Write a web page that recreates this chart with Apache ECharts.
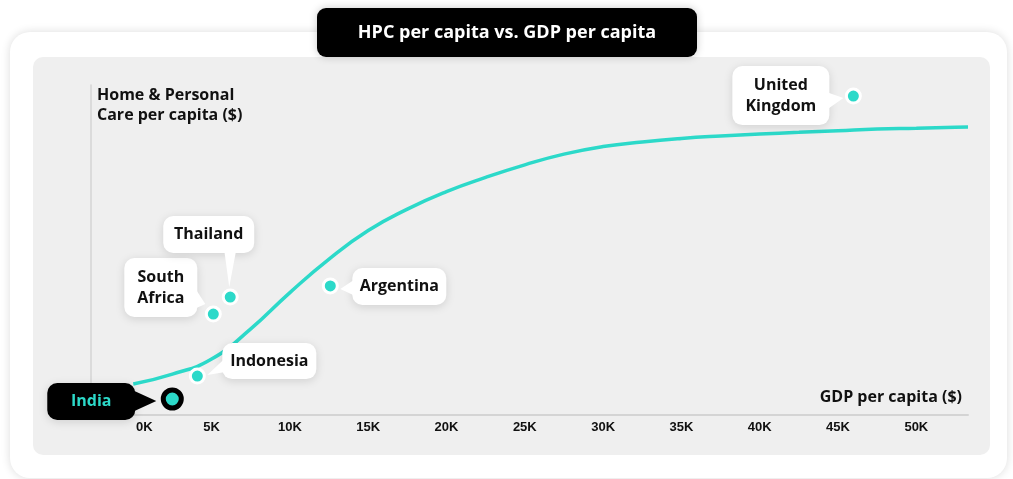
<!DOCTYPE html>
<html>
<head>
<meta charset="utf-8">
<script src="https://cdn.jsdelivr.net/npm/echarts@6/dist/echarts.min.js"></script>
<style>
html,body{margin:0;padding:0;background:#fff;}
#c{width:1013px;height:479px;}
</style>
</head>
<body>
<div id="c"></div>
<script>
// ---- data ----
var countries = ['India', 'Indonesia', 'South Africa', 'Thailand', 'Argentina', 'United Kingdom'];
var countryLabels = ['India', 'Indonesia', 'South\nAfrica', 'Thailand', 'Argentina', 'United\nKingdom'];
var gdpPerCapita = [2490, 4090, 5110, 6190, 12580, 45980];
var hpcPerCapita = [9.7, 23.6, 61.2, 71.5, 78.2, 193.3];

var curveGdp = [0, 2500, 5000, 7500, 10000, 12500, 15000, 17500, 20000, 22500, 25000, 27500, 30000, 32500, 35000, 37500, 40000, 42500, 45000, 47500, 50000, 52500, 53300];
var curveHpc = [18.8, 24.8, 33.9, 52.2, 74.2, 94.5, 111.8, 124.8, 135.4, 144.0, 151.6, 158.1, 162.7, 165.5, 167.6, 169.1, 170.3, 171.3, 172.3, 173.3, 173.8, 174.4, 174.5];

var xTickValues = [0, 5000, 10000, 15000, 20000, 25000, 30000, 35000, 40000, 45000, 50000];

var chartTitle = 'HPC per capita vs. GDP per capita';
var yName = 'Home & Personal\nCare per capita ($)';
var xName = 'GDP per capita ($)';

// ---- styles / layout (relative to each dot) ----
var TEAL = '#2cd9c9';
var FONT = '"Open Sans", Lato, sans-serif';
var calloutLayout = [
  {box: [-125, -16, 88, 37], ptr: [[-40, -9], [-16, 2], [-40, 13]], bg: '#000', color: TEAL, big: true},
  {box: [25, -33, 94, 36], ptr: [[28, -18], [28, -4], [10, -1]], bg: '#fff', color: '#111'},
  {box: [-89, -56, 73, 59], ptr: [[-19, -27], [-19, -5], [-8, -10]], bg: '#fff', color: '#111'},
  {box: [-67, -81, 91, 37], ptr: [[-6, -47], [6, -47], [-1, -10]], bg: '#fff', color: '#111'},
  {box: [22, -18, 94, 37], ptr: [[25, -7], [25, 10], [10, 3]], bg: '#fff', color: '#111'},
  {box: [-121, -30, 97, 59], ptr: [[-27, -4], [-27, 14], [-10, 2]], bg: '#fff', color: '#111'}
];

var pointData = countries.map(function (n, i) { return [gdpPerCapita[i], hpcPerCapita[i], i]; });
var curveData = curveGdp.map(function (g, i) { return [g, curveHpc[i]]; });

function renderCallout(params, api) {
  var i = params.dataIndex;
  var p = api.coord([api.value(0), api.value(1)]);
  var L = calloutLayout[i];
  var bx = p[0] + L.box[0], by = p[1] + L.box[1];
  var children = [];
  children.push({
    type: 'rect',
    shape: {x: bx, y: by, width: L.box[2], height: L.box[3], r: 10},
    style: {fill: L.bg, shadowBlur: 10, shadowColor: 'rgba(0,0,0,0.13)', shadowOffsetY: 2}
  });
  children.push({
    type: 'polygon',
    shape: {points: L.ptr.map(function (d) { return [p[0] + d[0], p[1] + d[1]]; })},
    style: {fill: L.bg}
  });
  children.push({
    type: 'text',
    style: {
      text: countryLabels[i],
      x: bx + L.box[2] / 2,
      y: by + L.box[3] / 2,
      align: 'center',
      verticalAlign: 'middle',
      font: 'bold 16px ' + FONT,
      lineHeight: 21,
      fill: L.color
    }
  });
  if (L.big) {
    children.push({
      type: 'circle',
      shape: {cx: p[0], cy: p[1], r: 9},
      style: {fill: TEAL, stroke: '#000', lineWidth: 5}
    });
  } else {
    children.push({
      type: 'circle',
      shape: {cx: p[0], cy: p[1], r: 7},
      style: {fill: TEAL, stroke: '#fff', lineWidth: 3}
    });
  }
  return {type: 'group', children: children};
}

var chart = echarts.init(document.getElementById('c'), null, {renderer: 'canvas'});
chart.setOption({
  backgroundColor: '#fff',
  animation: false,
  graphic: [
    {type: 'rect', z: -10, shape: {x: 10, y: 32, width: 997, height: 446, r: 20},
      style: {fill: '#fff', shadowBlur: 10, shadowColor: 'rgba(0,0,0,0.14)'}},
    {type: 'rect', z: -9, shape: {x: 33, y: 57, width: 957, height: 398, r: 10},
      style: {fill: '#efefef'}},
    {type: 'rect', z: 100, shape: {x: 317, y: 8, width: 380, height: 49, r: 9},
      style: {fill: '#000', shadowBlur: 8, shadowColor: 'rgba(0,0,0,0.2)'}},
    {type: 'text', z: 101, style: {text: chartTitle, x: 507, y: 33, align: 'center', verticalAlign: 'middle',
      font: 'bold 18px ' + FONT, fill: '#fff'}},
    {type: 'text', z: 5, style: {text: yName, x: 97, y: 85, align: 'left', verticalAlign: 'top',
      font: 'bold 16px ' + FONT, lineHeight: 20, fill: '#111'}},
    {type: 'text', z: 5, style: {text: xName, x: 962, y: 397, align: 'right', verticalAlign: 'middle',
      font: 'bold 16px ' + FONT, fill: '#111'}}
  ],
  grid: {left: 91, top: 85, width: 877, height: 330, containLabel: false},
  xAxis: {
    type: 'value', min: -2700, max: 53300,
    axisLine: {show: true, onZero: false, lineStyle: {color: '#d4d4d4', width: 2}},
    axisTick: {show: false},
    splitLine: {show: false},
    axisLabel: {
      customValues: xTickValues,
      margin: 6,
      color: '#111',
      fontWeight: 'bold',
      fontSize: 13,
      fontFamily: '"Liberation Sans", Arial, sans-serif',
      formatter: function (v) { return v === 0 ? '{z|0K}' : (v / 1000) + 'K'; },
      rich: {z: {padding: [0, 0, 0, 22], color: '#111', fontWeight: 'bold', fontSize: 13, fontFamily: '"Liberation Sans", Arial, sans-serif'}}
    }
  },
  yAxis: {
    type: 'value', min: 0, max: 200,
    axisLine: {show: true, onZero: false, lineStyle: {color: '#d4d4d4', width: 1.5}},
    axisTick: {show: false},
    axisLabel: {show: false},
    splitLine: {show: false}
  },
  series: [
    {
      type: 'line', name: 'Trend', data: curveData, smooth: 0.5,
      showSymbol: false, symbol: 'none', z: 3,
      lineStyle: {color: TEAL, width: 3.5}
    },
    {
      type: 'custom', name: 'Countries', data: pointData, z: 10,
      renderItem: renderCallout
    }
  ]
});
</script>
</body>
</html>
